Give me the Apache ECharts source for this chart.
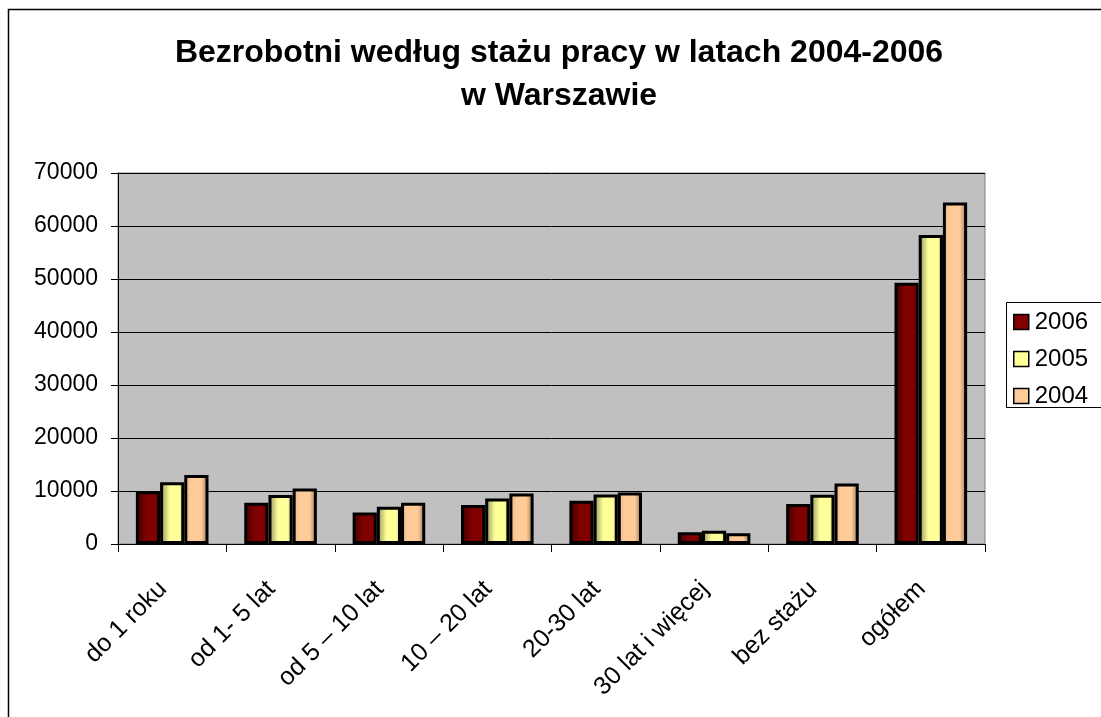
<!DOCTYPE html>
<html>
<head>
<meta charset="utf-8">
<script src="https://cdn.jsdelivr.net/npm/echarts@6/dist/echarts.min.js"></script>
<style>
  html, body { margin: 0; padding: 0; background: #fff; }
  #chart { width: 1101px; height: 717px; }
</style>
</head>
<body>
<div id="chart"></div>
<script>
const categories = ['do 1 roku', 'od 1- 5 lat', 'od 5 \u2013 10 lat', '10 \u2013 20 lat', '20-30 lat', '30 lat i więcej', 'bez stażu', 'ogółem']
const years = ['2006', '2005', '2004']
const values2006 = [9950, 7800, 5950, 7350, 8150, 2200, 7550, 49300]
const values2005 = [11650, 9250, 7050, 8600, 9350, 2500, 9300, 58300]
const values2004 = [13000, 10450, 7800, 9550, 9700, 2050, 11400, 64450]
const yTicks = [0, 10000, 20000, 30000, 40000, 50000, 60000, 70000]

const font = 'Liberation Sans, Arial, sans-serif'

function grad (stops) {
  return new echarts.graphic.LinearGradient(0, 0, 1, 0, stops.map(c => ({offset: c[0], color: c[1]})))
}

const fills = [
  grad([[0, '#3d0000'], [0.45, '#800000'], [0.85, '#800000'], [1, '#5a0000']]),
  grad([[0, '#8c8c5c'], [0.4, '#ffff99'], [0.8, '#ffff99'], [1, '#b3b36b']]),
  grad([[0, '#e6b88a'], [0.3, '#ffcc99'], [0.7, '#ffcc99'], [1, '#8f7256']])
]
const flat = ['#800000', '#ffff99', '#ffcc99']
const seriesValues = [values2006, values2005, values2004]

let chart = echarts.init(document.getElementById('chart'))
let option = {
  animation: false,
  backgroundColor: '#fff',
  title: {
    text: 'Bezrobotni według stażu pracy w latach 2004-2006\nw Warszawie',
    left: 554,
    top: 27,
    textAlign: 'center',
    textStyle: {
      fontFamily: font,
      fontSize: 32,
      fontWeight: 'bold',
      color: '#000',
      lineHeight: 43
    }
  },
  legend: {
    orient: 'vertical',
    left: 1008,
    top: 305,
    itemWidth: 15,
    itemHeight: 15,
    itemGap: 13,
    data: years.map((y, i) => ({
      name: y,
      icon: 'rect',
      itemStyle: {color: flat[i], borderColor: '#000', borderWidth: 1.5}
    })),
    textStyle: {fontFamily: font, fontSize: 24, color: '#000', padding: [0, 0, 0, 1]}
  },
  graphic: [
    {
      type: 'rect',
      shape: {x: 8.5, y: 9.5, width: 1200, height: 800},
      style: {fill: null, stroke: '#000', lineWidth: 1.5},
      silent: true
    },
    {
      type: 'rect',
      shape: {x: 1006.5, y: 302.5, width: 200, height: 105},
      style: {fill: null, stroke: '#000', lineWidth: 1},
      silent: true
    }
  ],
  grid: {
    left: 118,
    top: 173,
    right: 116,
    bottom: 173,
    show: true,
    backgroundColor: '#c0c0c0',
    borderColor: '#808080',
    borderWidth: 1
  },
  xAxis: {
    type: 'category',
    data: categories,
    axisLine: {lineStyle: {color: '#000', width: 1}},
    axisTick: {show: true, alignWithLabel: false, length: 8, lineStyle: {color: '#000'}},
    axisLabel: {
      interval: 0,
      rotate: 45,
      margin: 32,
      padding: [0, 13, 0, 0],
      fontFamily: font,
      fontSize: 25,
      color: '#000'
    }
  },
  yAxis: {
    type: 'value',
    min: yTicks[0],
    max: yTicks[yTicks.length - 1],
    interval: yTicks[1] - yTicks[0],
    axisLine: {show: true, lineStyle: {color: '#000', width: 1}},
    axisTick: {show: true, length: 7, lineStyle: {color: '#000'}},
    axisLabel: {
      margin: 20,
      fontFamily: font,
      fontSize: 23,
      color: '#000',
      formatter: v => String(v)
    },
    splitLine: {lineStyle: {color: '#000', width: 1}}
  },
  series: years.map((y, i) => ({
    name: y,
    type: 'bar',
    data: seriesValues[i],
    barGap: '0%',
    barCategoryGap: '33%',
    itemStyle: {color: fills[i], borderColor: '#000', borderWidth: 3}
  }))
}
chart.setOption(option)
</script>
</body>
</html>
